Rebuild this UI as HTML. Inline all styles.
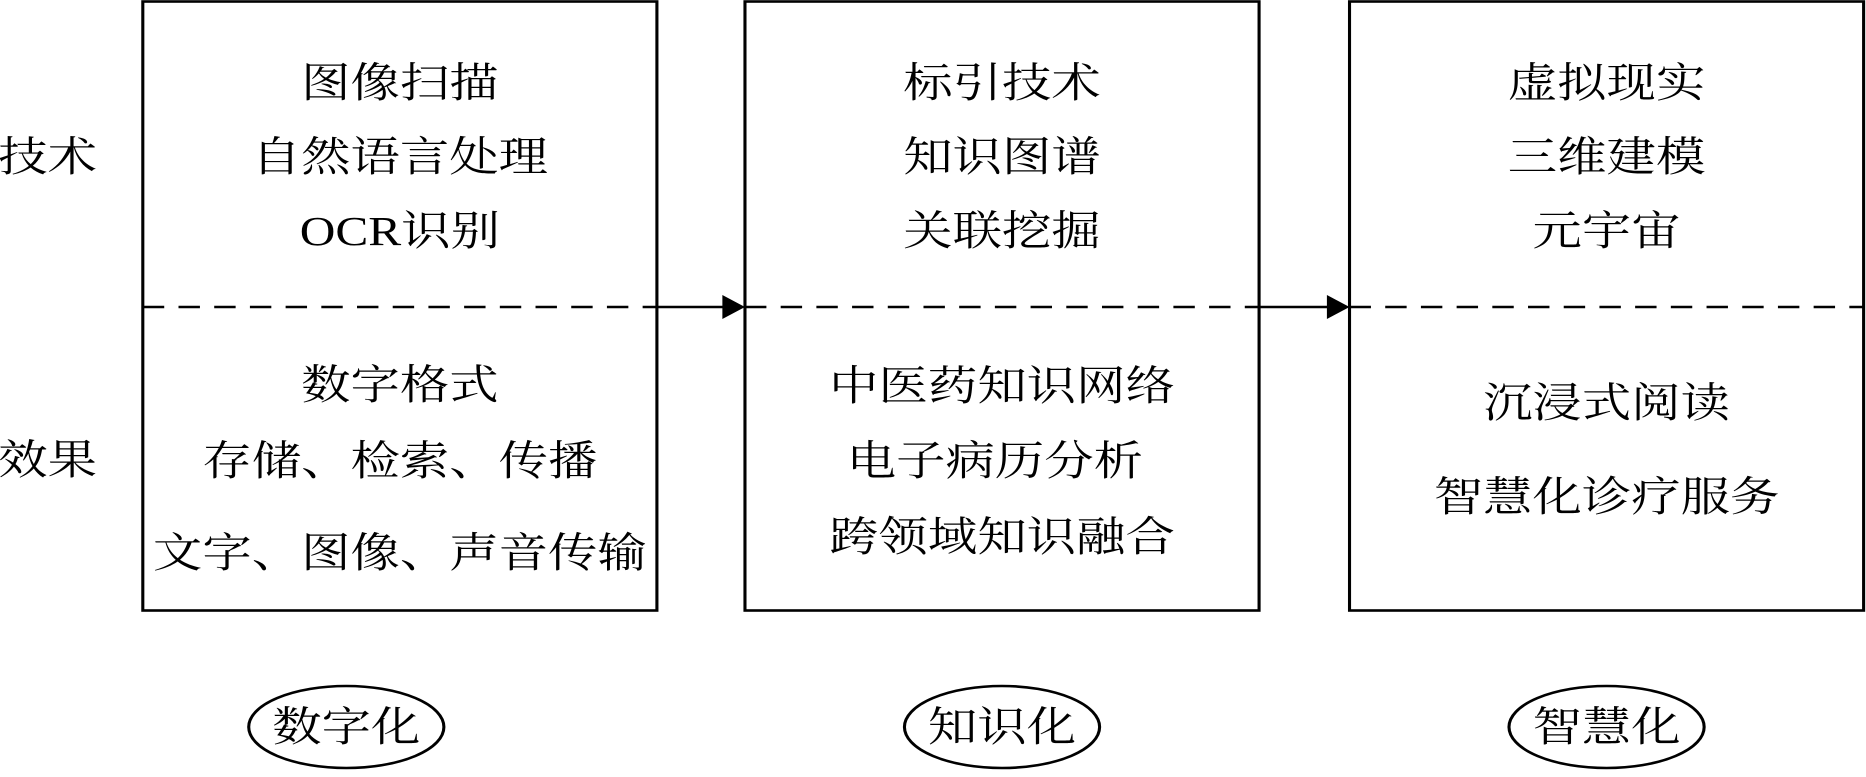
<!DOCTYPE html>
<html><head><meta charset="utf-8"><style>
html,body{margin:0;padding:0;background:#fff}
svg{display:block}
text{font-family:"Liberation Serif","Noto Serif CJK SC",serif;font-size:41.5px;fill:#000;text-anchor:middle;dominant-baseline:central}
</style></head><body>
<svg width="1866" height="777" viewBox="0 0 1568 777" preserveAspectRatio="none" xmlns="http://www.w3.org/2000/svg">
<g fill="none" stroke="#000" stroke-width="2.6">
<rect x="120" y="1.5" width="432" height="609"/>
<rect x="626" y="1.5" width="432" height="609"/>
<rect x="1134" y="1.5" width="432" height="609"/>
<line x1="120" y1="307" x2="552" y2="307" stroke-dasharray="18,12"/>
<line x1="626" y1="307" x2="1058" y2="307" stroke-dasharray="18,12"/>
<line x1="1134" y1="307" x2="1566" y2="307" stroke-dasharray="18,12"/>
<line x1="552" y1="307" x2="610" y2="307"/>
<line x1="1058" y1="307" x2="1118" y2="307"/>
<ellipse cx="291" cy="727" rx="82" ry="41"/>
<ellipse cx="842" cy="727" rx="82" ry="41"/>
<ellipse cx="1350" cy="727" rx="82" ry="41"/>
</g>
<polygon points="607,295 626,307 607,319" fill="#000"/>
<polygon points="1115,295 1134,307 1115,319" fill="#000"/>
<text x="40" y="157">技术</text>
<text x="40" y="460">效果</text>
<text x="336" y="83">图像扫描</text>
<text x="336" y="157">自然语言处理</text>
<text x="336" y="231">OCR识别</text>
<text x="336" y="385">数字格式</text>
<text x="336" y="461">存储、检索、传播</text>
<text x="336" y="553">文字、图像、声音传输</text>
<text x="842" y="83">标引技术</text>
<text x="842" y="157">知识图谱</text>
<text x="842" y="231">关联挖掘</text>
<text x="842" y="386">中医药知识网络</text>
<text x="836" y="461">电子病历分析</text>
<text x="842" y="537">跨领域知识融合</text>
<text x="1350" y="83">虚拟现实</text>
<text x="1350" y="157">三维建模</text>
<text x="1350" y="231">元宇宙</text>
<text x="1350" y="403">沉浸式阅读</text>
<text x="1350" y="497">智慧化诊疗服务</text>
<text x="291" y="727">数字化</text>
<text x="842" y="727">知识化</text>
<text x="1350" y="727">智慧化</text>
</svg>
</body></html>
